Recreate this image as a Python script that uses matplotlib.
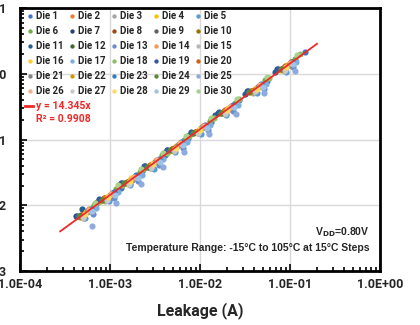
import numpy as np
import matplotlib
matplotlib.use("Agg")
from matplotlib import pyplot as plt
from matplotlib.ticker import LogLocator, FixedLocator, NullFormatter

# leakage per die (mA), one value per temperature: -15C .. 105C in 15C steps
leak_ma = [
    [0.70, 1.31, 2.25, 4.1, 7.4, 13.2, 27.5, 55, 148],
    [0.59, 1.02, 1.90, 3.25, 6.0, 10.8, 22.5, 45, 103],
    [0.51, 0.88, 1.65, 2.8, 5.2, 9.4, 19.5, 39, 88],
    [0.46, 0.80, 1.47, 2.6, 4.5, 8.6, 16.8, 36, 77],
    [0.53, 0.97, 1.68, 3.05, 5.3, 10.2, 19.6, 43, 90],
    [0.67, 1.17, 2.15, 3.8, 6.6, 12.8, 24.5, 53, 113],
    [0.42, 0.77, 1.34, 2.45, 4.3, 8.1, 15.8, 34, 72],
    [0.48, 0.86, 1.50, 2.75, 4.9, 8.8, 18.4, 37, 84],
    [0.56, 0.99, 1.80, 3.1, 5.7, 10.4, 21.3, 44, 95],
    [0.57, 1.06, 1.85, 3.35, 5.9, 11.2, 21.7, 47, 104],
    [0.49, 0.72, 1.26, 2.3, 4.0, 7.6, 14.8, 32, 68],
    [0.47, 0.87, 1.55, 2.7, 4.95, 9.1, 17.8, 38, 82],
    [0.64, 1.12, 2.05, 3.55, 6.5, 12.2, 23.5, 51, 108],
    [0.58, 1.04, 1.88, 3.28, 6.0, 10.9, 22.2, 46, 100],
    [0.50, 0.91, 1.60, 2.88, 5.1, 9.6, 18.8, 40, 86],
    [0.54, 0.94, 1.72, 2.98, 5.45, 9.9, 20.3, 41.5, 93],
    [0.70, 1.22, 2.25, 3.85, 7.1, 12.8, 26.5, 54, 118],
    [0.74, 1.35, 2.35, 4.25, 7.5, 14.2, 27.5, 59, 131],
    [0.43, 0.75, 1.37, 2.38, 4.35, 7.9, 16.2, 33, 74],
    [0.51, 0.89, 1.63, 2.83, 5.15, 9.45, 19.2, 39.5, 88],
    [0.555, 1.01, 1.77, 3.18, 5.6, 10.6, 20.8, 44.5, 97],
    [0.47, 0.85, 1.54, 2.72, 4.85, 9.0, 18.2, 37.5, 83],
    [0.61, 1.10, 1.94, 3.5, 6.2, 11.3, 23.4, 48, 105],
    [0.45, 0.81, 1.44, 2.57, 4.6, 8.4, 17.2, 35.5, 79],
    [0.63, 1.18, 2.2, 3.85, 6.7, 12.5, 25, 52, 113],
    [0.585, 1.03, 1.86, 3.32, 5.95, 11.1, 21.8, 46.5, 102],
    [0.50, 0.92, 1.61, 2.86, 5.1, 9.55, 18.9, 40.5, 87],
    [0.53, 0.96, 1.69, 3.02, 5.35, 10.1, 19.9, 42.5, 91],
    [0.635, 1.13, 2.03, 3.62, 6.45, 11.9, 24.2, 50, 109],
    [0.69, 1.24, 2.2, 3.92, 7.0, 13.1, 25.8, 55, 121],
]

# y-axis quantity per die, same order (x 1e-3)
y_milli = [
    [10.3, 18.4, 32.8, 57.5, 107, 186, 398, 778, 2120],
    [8.7, 15.1, 27.5, 48.0, 87, 160, 325, 665, 1490],
    [6.5, 11.5, 21.0, 36.7, 66, 124, 249, 512, 1125],
    [6.9, 11.7, 22.0, 38, 67, 125, 252, 525, 1150],
    [6.4, 11.5, 20.3, 36.2, 64.4, 121, 239, 511, 1071],
    [10.0, 17.8, 32.0, 57.8, 98, 195, 365, 805, 1690],
    [6.8, 12.2, 21.8, 39.0, 70, 128, 257, 540, 1170],
    [7.2, 12.9, 22.2, 41.5, 72.5, 132, 272, 558, 1240],
    [8.1, 14.0, 26.0, 44.2, 82.5, 148, 303, 636, 1350],
    [8.3, 15.2, 27.0, 48.0, 86, 160, 318, 675, 1520],
    [8.8, 11.3, 20.1, 36.0, 63.5, 119, 236, 500, 1080],
    [6.8, 12.4, 22.4, 38.5, 71.5, 130, 257, 540, 1180],
    [7.3, 13.0, 23.3, 41.0, 75, 139, 272, 580, 1250],
    [8.5, 15.3, 27.3, 48.2, 87, 160, 322, 680, 1460],
    [6.5, 11.9, 20.8, 37.1, 66.5, 124, 245, 523, 1107],
    [8.0, 13.8, 25.6, 44.3, 80, 147, 298, 618, 1370],
    [9.0, 15.9, 28.8, 50, 91, 166, 340, 700, 1530],
    [11.2, 20.1, 35.6, 63.5, 114, 212, 418, 880, 1990],
    [7.0, 12.3, 22.1, 39.1, 70.4, 129, 261, 541, 1197],
    [7.5, 13.1, 23.6, 41.6, 75.5, 137, 283, 575, 1295],
    [7.8, 14.3, 24.7, 45.0, 78.5, 150, 290, 630, 1360],
    [6.7, 12.3, 22.0, 39.2, 69, 130, 259, 540, 1185],
    [8.9, 16.0, 28.6, 51, 91, 166, 340, 705, 1530],
    [6.8, 12.0, 21.6, 38.0, 69, 126, 255, 535, 1170],
    [4.8, 10.9, 21.0, 38.5, 65, 122, 245, 515, 1120],
    [8.6, 15.0, 27.4, 48.3, 87.5, 163, 317, 685, 1480],
    [6.6, 12.2, 21.4, 38.5, 68.5, 128, 250, 545, 1150],
    [7.4, 13.6, 23.6, 42.8, 75, 141, 282, 595, 1285],
    [8.1, 14.3, 25.9, 45.5, 81.9, 150, 308, 630, 1389],
    [11.0, 20.2, 35.2, 63.5, 113, 210, 418, 882, 1964],
]

die_names = ["Die %d" % (i + 1) for i in range(30)]
colors = ["#4472C4", "#ED7D31", "#A5A5A5", "#FFC000", "#5B9BD5", "#70AD47",
          "#264478", "#9E480E", "#636363", "#997300", "#255E91", "#43682B",
          "#698ED0", "#F1975A", "#B7B7B7", "#FFCD33", "#7CAFDD", "#8CC168",
          "#335AA1", "#D26012", "#848484", "#CC9A00", "#327DC2", "#5A8A39",
          "#8FAADC", "#F4B183", "#C9C9C9", "#FFD966", "#9DC3E6", "#A9D18E"]

slope = 14.345
r2 = 0.9908
trend_x = [2.8e-4, 0.2]

x_ticks = [1e-4, 1e-3, 1e-2, 1e-1, 1e0]
x_labels = ["1.0E-04", "1.0E-03", "1.0E-02", "1.0E-01", "1.0E+00"]
y_ticks = [1e-3, 1e-2, 1e-1, 1e0, 1e1]
y_labels = ["1.0E-03", "1.0E-02", "1.0E-01", "1.0E+00", "1.0E+01"]

red = "#F02828"
plt.rcParams["font.family"] = ["Roboto", "DejaVu Sans"]

W, H = 420, 325
fig = plt.figure(figsize=(W / 100, H / 100), dpi=100)
ax = fig.add_axes([0.0476, 0.166, 0.857, 0.809])

handles = []
for i in range(30):
    xs = np.array(leak_ma[i]) / 1000.0
    ys = np.array(y_milli[i]) / 1000.0
    h = ax.scatter(xs, ys, s=20, color=colors[i], linewidths=0, zorder=3)
    handles.append(h)

tx = np.array(trend_x)
ax.plot(tx, slope * tx, color=red, lw=1.3, zorder=4)

ax.set_xscale("log")
ax.set_yscale("log")
ax.set_xlim(1e-4, 1e0)
ax.set_ylim(1e-3, 1e1)

ax.xaxis.set_major_locator(FixedLocator(x_ticks))
ax.set_xticklabels(x_labels)
ax.yaxis.set_major_locator(FixedLocator(y_ticks))
ax.set_yticklabels(y_labels)
for a in (ax.xaxis, ax.yaxis):
    a.set_minor_locator(LogLocator(base=10, subs=np.arange(2, 10)))
    a.set_minor_formatter(NullFormatter())

ax.tick_params(which="both", direction="in", color="black", width=1.2)
ax.tick_params(which="major", length=5, labelsize=9)
ax.tick_params(which="minor", length=3)
ax.tick_params(axis="x", which="major", pad=5)
ax.tick_params(axis="y", which="major", pad=10)
for lab in ax.get_xticklabels() + ax.get_yticklabels():
    lab.set_fontweight("bold")
    lab.set_color("#262626")

ax.grid(True, which="major", color="#D9D9D9", lw=1, zorder=0)
ax.set_axisbelow(True)
for sp in ax.spines.values():
    sp.set_linewidth(2)
    sp.set_color("black")

ax.set_xlabel("Leakage (A)", fontsize=11.5, fontweight="bold", color="#262626", labelpad=8)

# legend in row-major order like the original
order = [r * 5 + c for c in range(5) for r in range(6)]
leg_kw = dict(ncol=5, loc="upper left", frameon=False,
              prop={"size": 7, "weight": "bold"},
              handlelength=0.6, handletextpad=0.35, borderaxespad=0.0,
              borderpad=0.0, markerscale=0.7)
col_sp, row_sp = 0.35, 0.5
fsz = 7 * 100 / 72.0  # font size in pixels


def make_legend(cs, rs, anchor):
    lg = ax.legend([handles[k] for k in order], [die_names[k] for k in order],
                   columnspacing=cs, labelspacing=rs,
                   bbox_to_anchor=anchor, bbox_transform=fig.transFigure, **leg_kw)
    for t in lg.get_texts():
        t.set_color("#262626")
    fig.canvas.draw()
    return lg


# fit column / row pitch (42 px, 15 px) and first text position (36 px, row 1 at 16 px)
leg = make_legend(col_sp, row_sp, (0.05, 0.97))
tt = [t.get_window_extent() for t in leg.get_texts()]
col_sp += (42 - (tt[6].x0 - tt[0].x0)) / fsz
row_sp += (15 - (tt[0].y0 - tt[1].y0)) / fsz
leg = make_legend(col_sp, row_sp, (0.05, 0.97))
e = leg.get_texts()[0].get_window_extent()
ax_x = 0.05 + (36 - e.x0) / W
ax_y = 0.97 + ((H - 16) - (e.y0 + e.y1) / 2) / H
leg = make_legend(col_sp, row_sp, (ax_x, ax_y))

# trendline label, left-aligned with the legend text
to_fig = fig.transFigure.inverted()
x_txt = 36 / W
fig.add_artist(plt.Line2D([25 / W, 33 / W], [1 - 106 / H, 1 - 106 / H], color=red, lw=2))
fig.text(x_txt, 1 - 106 / H, "y = 14.345x", color=red,
         fontsize=7.5, fontweight="bold", va="center")
fig.text(x_txt, 1 - 119 / H, "R² = %.4f" % r2, color=red,
         fontsize=7.5, fontweight="bold", va="center")

ax.text(0.972, 0.148, "V$_{\\mathbf{DD}}$=0.80V", transform=ax.transAxes, ha="right", va="center",
        fontsize=7.5, fontweight="bold", family="Liberation Sans", color="#262626")
ax.text(0.972, 0.087, "Temperature Range: -15\u00b0C to 105\u00b0C at 15\u00b0C Steps",
        transform=ax.transAxes, ha="right", va="center",
        fontsize=7.5, fontweight="bold", family="Liberation Sans", color="#262626")

plt.savefig("out.png", dpi=100)
